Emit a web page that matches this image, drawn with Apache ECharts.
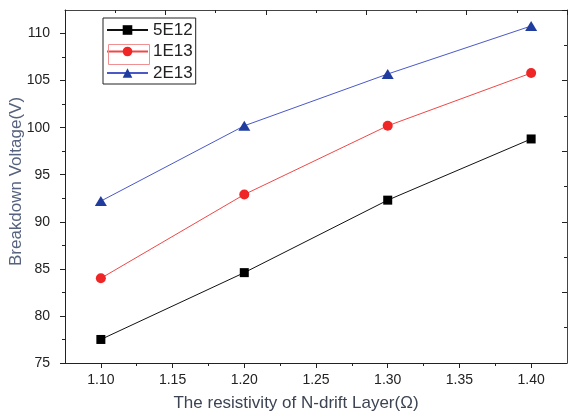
<!DOCTYPE html>
<html><head><meta charset="utf-8">
<script src="https://cdn.jsdelivr.net/npm/echarts@6/dist/echarts.min.js"></script>
<style>html,body{margin:0;padding:0;background:#fff}#c{width:568px;height:417px}</style>
</head><body><div id="c"></div>
<script>
const resistivity = [1.10, 1.20, 1.30, 1.40];
const v5E12 = [77.5, 84.6, 92.3, 98.8];
const v1E13 = [84.0, 92.9, 100.2, 105.8];
const v2E13 = [92.2, 100.2, 105.7, 110.8];
const seriesNames = ['5E12', '1E13', '2E13'];
const xTicks = [1.10, 1.15, 1.20, 1.25, 1.30, 1.35, 1.40];
const xMinorTicks = [1.125, 1.175, 1.225, 1.275, 1.325, 1.375];
const yTicks = [75, 80, 85, 90, 95, 100, 105, 110];
const yMinorTicks = [77.5, 82.5, 87.5, 92.5, 97.5, 102.5, 107.5];

const pair = (xs, ys) => xs.map((x, i) => [x, ys[i]]);
const axisColor = '#222';
const labelFont = { fontFamily: 'Liberation Sans', fontSize: 14, color: '#222' };

const chart = echarts.init(document.getElementById('c'), null, { renderer: 'canvas' });
chart.setOption({
  animation: false,
  backgroundColor: '#fff',
  grid: { left: 65, right: 1, top: 10, bottom: 54, containLabel: false, outerBoundsMode: 'none' },
  legend: {
    orient: 'vertical', left: 103, top: 18,
    padding: [2, 3, 1, 3], itemGap: 1.5,
    itemWidth: 41, itemHeight: 12,
    borderColor: '#222', borderWidth: 1, backgroundColor: '#fff',
    textStyle: { fontFamily: 'Liberation Sans', fontSize: 17, color: '#222', lineHeight: 20 },
    data: seriesNames
  },
  xAxis: [
    {
      type: 'value', min: 1.075, max: 1.425, position: 'bottom',
      name: 'The resistivity of N-drift Layer(Ω)', nameLocation: 'middle', nameGap: 32, nameMoveOverlap: false,
      nameTextStyle: { fontFamily: 'Liberation Sans', fontSize: 17, color: '#3c4454', padding: [0, 40, 0, 0] },
      axisLine: { show: true, lineStyle: { color: axisColor, width: 1 } },
      axisTick: { show: true, length: 5, lineStyle: { color: axisColor }, customValues: xTicks },
      axisLabel: Object.assign({ margin: 10, customValues: xTicks, formatter: v => v.toFixed(2) }, labelFont),
      splitLine: { show: false }
    },
    {
      type: 'value', min: 1.075, max: 1.425, position: 'bottom',
      axisLine: { show: false },
      axisTick: { show: true, length: 3, lineStyle: { color: axisColor }, customValues: xMinorTicks },
      axisLabel: { show: false }, splitLine: { show: false }
    },
    {
      type: 'value', min: 0, max: 1, interval: 0.2, position: 'top',
      axisLine: { show: true, lineStyle: { color: '#444', width: 1 } },
      axisTick: { show: true, inside: true, length: 5, lineStyle: { color: axisColor } },
      minorTick: { show: true, splitNumber: 2, length: 3, lineStyle: { color: axisColor } },
      axisLabel: { show: false }, splitLine: { show: false }
    }
  ],
  yAxis: [
    {
      type: 'value', min: 75, max: 112.5, position: 'left',
      name: 'Breakdown Voltage(V)', nameLocation: 'middle', nameGap: 40, nameMoveOverlap: false,
      nameTextStyle: { fontFamily: 'Liberation Sans', fontSize: 17, color: '#56627e', padding: [0, 0, 0, 10] },
      axisLine: { show: true, lineStyle: { color: axisColor, width: 1 } },
      axisTick: { show: true, length: 5, lineStyle: { color: axisColor }, customValues: yTicks },
      axisLabel: Object.assign({ margin: 15, customValues: yTicks }, labelFont),
      splitLine: { show: false }
    },
    {
      type: 'value', min: 75, max: 112.5, position: 'left',
      axisLine: { show: false },
      axisTick: { show: true, length: 3, lineStyle: { color: axisColor }, customValues: yMinorTicks },
      axisLabel: { show: false }, splitLine: { show: false }
    },
    {
      type: 'value', min: 0, max: 1, interval: 0.2, position: 'right',
      axisLine: { show: true, lineStyle: { color: '#444', width: 1 } },
      axisTick: { show: true, inside: true, length: 5, lineStyle: { color: axisColor } },
      minorTick: { show: true, splitNumber: 2, length: 3, lineStyle: { color: axisColor } },
      axisLabel: { show: false }, splitLine: { show: false }
    }
  ],
  graphic: [
    { type: 'rect', left: 106, top: 42, shape: { width: 41, height: 20 }, style: { fill: 'none', stroke: '#f09090', lineWidth: 1 }, z: 100 }
  ],
  series: [
    {
      name: seriesNames[0], type: 'line', xAxisIndex: 0, yAxisIndex: 0,
      data: pair(resistivity, v5E12),
      symbol: 'rect', symbolSize: 9,
      lineStyle: { color: '#111', width: 1 }, itemStyle: { color: '#000' }
    },
    {
      name: seriesNames[1], type: 'line', xAxisIndex: 0, yAxisIndex: 0,
      data: pair(resistivity, v1E13),
      symbol: 'circle', symbolSize: 10,
      lineStyle: { color: '#f04848', width: 1 }, itemStyle: { color: '#ee2626' }
    },
    {
      name: seriesNames[2], type: 'line', xAxisIndex: 0, yAxisIndex: 0,
      data: pair(resistivity, v2E13),
      symbol: 'triangle', symbolSize: [12, 10],
      lineStyle: { color: '#4a58c8', width: 1 }, itemStyle: { color: '#1f3c9e' }
    }
  ]
});
</script></body></html>
